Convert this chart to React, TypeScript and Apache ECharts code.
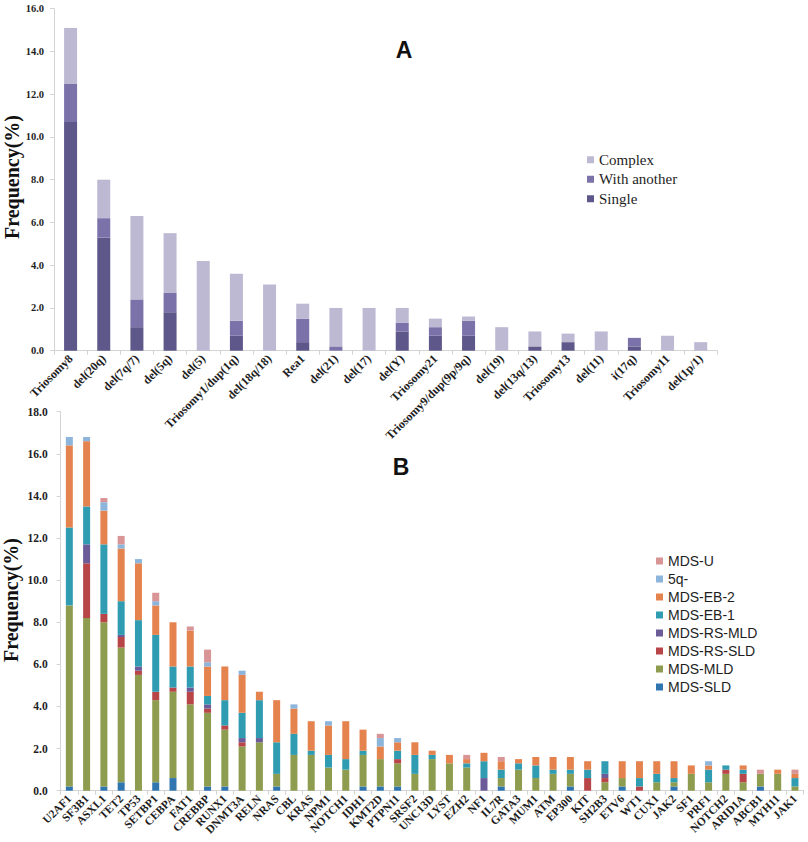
import React, { useEffect, useRef } from "react";
import * as echarts from "echarts";

// ---------- Chart A data ----------
const catsA = [
  "Triosomy8", "del(20q)", "del(7q/7)", "del(5q)", "del(5)", "Triosomy1/dup(1q)",
  "del(18q/18)", "Rea1", "del(21)", "del(17)", "del(Y)", "Triosomy21",
  "Triosomy9/dup(9p/9q)", "del(19)", "del(13q/13)", "Triosomy13", "del(11)",
  "i(17q)", "Triosomy11", "del(1p/1)",
];
const singleA = [10.7, 5.3, 1.1, 1.8, 0, 0.7, 0, 0.4, 0, 0, 0.9, 0.7, 0.7, 0, 0.2, 0.4, 0, 0.2, 0, 0];
const withAnotherA = [1.8, 0.9, 1.3, 0.9, 0, 0.7, 0, 1.1, 0.2, 0, 0.4, 0.4, 0.7, 0, 0, 0, 0, 0.4, 0, 0];
const complexA = [2.6, 1.8, 3.9, 2.8, 4.2, 2.2, 3.1, 0.7, 1.8, 2.0, 0.7, 0.4, 0.2, 1.1, 0.7, 0.4, 0.9, 0, 0.7, 0.4];
const yTicksA = { min: 0, max: 16, interval: 2 };

// ---------- Chart B data ----------
const catsB = [
  "U2AF1", "SF3B1", "ASXL1", "TET2", "TP53", "SETBP1", "CEBPA", "FAT1", "CREBBP",
  "RUNX1", "DNMT3A", "RELN", "NRAS", "CBL", "KRAS", "NPM1", "NOTCH1", "IDH1",
  "KMT2D", "PTPN11", "SRSF2", "UNC13D", "LYST", "EZH2", "NF1", "IL7R", "GATA3",
  "MUM1", "ATM", "EP300", "KIT", "SH2B3", "ETV6", "WT1", "CUX1", "JAK2", "SF1",
  "PRF1", "NOTCH2", "ARID1A", "ABCB1", "MYH11", "JAK1",
];
const sldB = [0.2, 0, 0.2, 0.4, 0, 0.4, 0.6, 0, 0.2, 0.2, 0, 0, 0.2, 0, 0, 0, 0, 0.2, 0.2, 0.2, 0, 0, 0, 0, 0, 0.2, 0, 0, 0, 0.2, 0, 0, 0.2, 0, 0, 0.2, 0, 0, 0, 0, 0.2, 0, 0];
const mldB = [8.6, 8.2, 7.8, 6.4, 5.5, 3.9, 4.1, 4.1, 3.5, 2.7, 2.1, 2.3, 0.6, 1.7, 1.7, 1.1, 1.0, 1.5, 1.3, 1.1, 0.8, 1.5, 1.3, 1.1, 0, 0.4, 1.0, 0.6, 0.8, 0.6, 0, 0.4, 0.4, 0, 0.4, 0.2, 0.8, 0.4, 0.8, 0.4, 0.6, 0.8, 0.2];
const rsSldB = [0, 2.6, 0.4, 0.5, 0.2, 0.4, 0.2, 0.6, 0.2, 0.2, 0.2, 0, 0, 0, 0, 0, 0, 0, 0, 0.2, 0, 0, 0, 0, 0, 0, 0, 0, 0, 0, 0.6, 0.2, 0, 0.2, 0, 0, 0, 0, 0.2, 0.4, 0, 0, 0];
const rsMldB = [0, 0.9, 0, 0.1, 0.2, 0, 0, 0.2, 0.2, 0, 0.2, 0.2, 0, 0, 0, 0, 0, 0, 0, 0, 0, 0, 0, 0, 0.6, 0, 0, 0, 0, 0, 0, 0.2, 0, 0, 0, 0, 0, 0, 0, 0, 0, 0, 0];
const eb1B = [3.7, 1.8, 3.3, 1.6, 2.2, 2.7, 1.0, 1.0, 0.4, 1.2, 1.2, 1.8, 1.5, 1.0, 0.2, 0.6, 0.5, 0.2, 0, 0.4, 0.9, 0.2, 0, 0.2, 0.8, 0.4, 0.3, 0.6, 0.2, 0.2, 0.4, 0.6, 0, 0.4, 0.4, 0.2, 0, 0.6, 0.2, 0.2, 0, 0, 0.4];
const eb2B = [3.9, 3.1, 1.6, 2.5, 2.7, 1.4, 2.1, 1.7, 1.4, 1.6, 1.8, 0.4, 2.0, 1.2, 1.4, 1.4, 1.8, 1.0, 0.6, 0.4, 0.6, 0.2, 0.4, 0.2, 0.4, 0.4, 0.2, 0.4, 0.6, 0.6, 0.4, 0, 0.8, 0.8, 0.6, 0.8, 0.4, 0.2, 0, 0.2, 0, 0.2, 0.2];
const q5B = [0.4, 0.2, 0.4, 0.2, 0.2, 0.2, 0, 0, 0.2, 0, 0.2, 0, 0, 0.2, 0, 0.2, 0, 0, 0.4, 0.2, 0, 0, 0, 0, 0, 0, 0, 0, 0, 0, 0, 0, 0, 0, 0, 0, 0, 0.2, 0, 0, 0, 0, 0];
const uB = [0, 0, 0.2, 0.4, 0, 0.4, 0, 0.2, 0.6, 0, 0, 0, 0, 0, 0, 0, 0, 0, 0.2, 0, 0, 0, 0, 0.2, 0, 0.2, 0, 0, 0, 0, 0, 0, 0, 0, 0, 0, 0, 0, 0, 0, 0.2, 0, 0.2];
const yTicksB = { min: 0, max: 18, interval: 2 };

const seriesA = [
  { name: "Single", data: singleA, color: "#5e5789" },
  { name: "With another", data: withAnotherA, color: "#7b72aa" },
  { name: "Complex", data: complexA, color: "#bdb9d2" },
];
const seriesB = [
  { name: "MDS-SLD", data: sldB, color: "#2f76b1" },
  { name: "MDS-MLD", data: mldB, color: "#8d9c4e" },
  { name: "MDS-RS-SLD", data: rsSldB, color: "#b84649" },
  { name: "MDS-RS-MLD", data: rsMldB, color: "#6b5b98" },
  { name: "MDS-EB-1", data: eb1B, color: "#2f9cb2" },
  { name: "MDS-EB-2", data: eb2B, color: "#e5834f" },
  { name: "5q-", data: q5B, color: "#8db5dc" },
  { name: "MDS-U", data: uB, color: "#d99596" },
];

const SERIF = "'Liberation Serif', 'Times New Roman', serif";
const SANS = "'Liberation Sans', Arial, sans-serif";
const AXIS_GRAY = "#d4d4d4";

function xAxisCfg(gridIndex: number, data: string[], fontSize: number) {
  return {
    type: "category",
    gridIndex,
    data,
    axisLine: { show: true, lineStyle: { color: AXIS_GRAY, width: 1 } },
    axisTick: { show: true, length: 4, lineStyle: { color: AXIS_GRAY } },
    axisLabel: {
      interval: 0,
      rotate: 45,
      margin: 6,
      fontFamily: SERIF,
      fontWeight: "bold",
      fontSize,
      color: "#1e1e1e",
    },
  };
}

function yAxisCfg(gridIndex: number, t: { min: number; max: number; interval: number }, fontSize: number, margin: number) {
  return {
    type: "value",
    gridIndex,
    min: t.min,
    max: t.max,
    interval: t.interval,
    splitLine: { show: false },
    axisLine: { show: true, lineStyle: { color: AXIS_GRAY, width: 1 } },
    axisTick: { show: true, length: 4, lineStyle: { color: AXIS_GRAY } },
    axisLabel: {
      margin,
      formatter: (v: number) => v.toFixed(1),
      fontFamily: SERIF,
      fontWeight: "bold",
      fontSize,
      color: "#1e1e1e",
    },
  };
}

export default function App() {
  const ref = useRef<HTMLDivElement>(null);
  useEffect(() => {
    if (!ref.current) return;
    const chart = echarts.init(ref.current, null, { renderer: "svg" });
    const option: any = {
      animation: false,
      backgroundColor: "#ffffff",
      grid: [
        { left: 54, top: 8.7, width: 663.3, height: 342 },
        { left: 60.7, top: 411.7, width: 742.9, height: 379 },
      ],
      xAxis: [xAxisCfg(0, catsA, 12), xAxisCfg(1, catsB, 11.5)],
      yAxis: [yAxisCfg(0, yTicksA, 10.5, 10), yAxisCfg(1, yTicksB, 11.5, 13)],
      legend: [
        {
          data: ["Complex", "With another", "Single"],
          orient: "vertical",
          left: 587,
          top: 150,
          padding: 0,
          itemGap: 0,
          icon: "rect",
          itemWidth: 7,
          itemHeight: 7,
          selectedMode: false,
          textStyle: { fontFamily: SERIF, fontSize: 15, color: "#1e1e1e", lineHeight: 19.5 },
        },
        {
          data: ["MDS-U", "5q-", "MDS-EB-2", "MDS-EB-1", "MDS-RS-MLD", "MDS-RS-SLD", "MDS-MLD", "MDS-SLD"],
          orient: "vertical",
          left: 656,
          top: 552,
          padding: 0,
          itemGap: 0,
          icon: "rect",
          itemWidth: 7,
          itemHeight: 7,
          selectedMode: false,
          textStyle: { fontFamily: SANS, fontSize: 14, color: "#1e1e1e", lineHeight: 18 },
        },
      ],
      graphic: [
        {
          type: "text",
          x: 404,
          y: 50,
          style: { text: "A", font: `bold 23px ${SANS}`, fill: "#111", align: "center", verticalAlign: "middle" },
        },
        {
          type: "text",
          x: 401,
          y: 467,
          style: { text: "B", font: `bold 23px ${SANS}`, fill: "#111", align: "center", verticalAlign: "middle" },
        },
        {
          type: "text",
          x: 12,
          y: 177,
          rotation: Math.PI / 2,
          style: { text: "Frequency(%)", font: `bold 20px ${SERIF}`, fill: "#111", align: "center", verticalAlign: "middle" },
        },
        {
          type: "text",
          x: 11,
          y: 600,
          rotation: Math.PI / 2,
          style: { text: "Frequency(%)", font: `bold 20px ${SERIF}`, fill: "#111", align: "center", verticalAlign: "middle" },
        },
      ],
      series: [
        ...seriesA.map((s) => ({
          type: "bar",
          name: s.name,
          xAxisIndex: 0,
          yAxisIndex: 0,
          stack: "A",
          barWidth: 13,
          data: s.data,
          itemStyle: { color: s.color },
        })),
        ...seriesB.map((s) => ({
          type: "bar",
          name: s.name,
          xAxisIndex: 1,
          yAxisIndex: 1,
          stack: "B",
          barWidth: 7,
          data: s.data,
          itemStyle: { color: s.color },
        })),
      ],
    };
    chart.setOption(option);
    return () => chart.dispose();
  }, []);
  return (
    <div
      ref={ref}
      style={{ position: "fixed", left: 0, top: 0, width: 808, height: 842, background: "#fff" }}
    />
  );
}
